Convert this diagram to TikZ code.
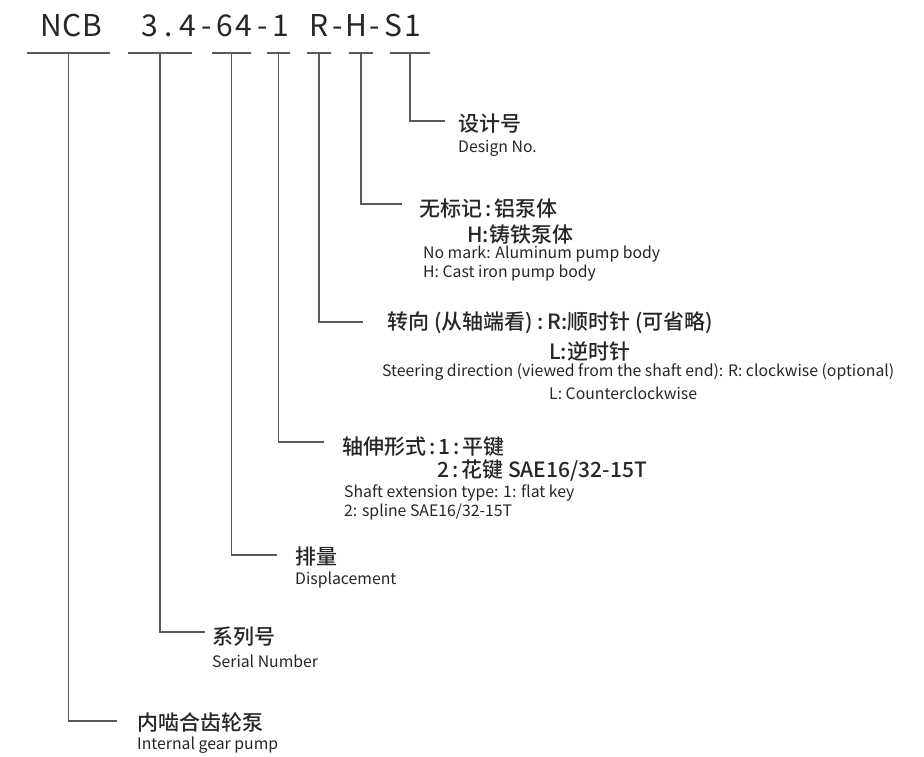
\documentclass[tikz,border=0pt]{standalone}
\usepackage{fontspec}
\setmainfont{Noto Sans CJK SC}
\newfontfamily\cjkmid{Noto Sans CJK SC}[UprightFont=* Medium]
\newfontfamily\codefontN{Noto Sans CJK SC}[LetterSpace=3]
\usetikzlibrary{positioning,calc}
\definecolor{LineGray}{HTML}{5A5A5A}
\definecolor{InkDark}{HTML}{262626}
\newcommand\sepc{\kern3pt:\kern3pt}

\begin{document}
\begin{tikzpicture}[x=1pt,y=-1pt,
    lead/.style={draw=LineGray,line width=1.1pt},
    codetext/.style={font=\codefontN\fontsize{30}{36}\selectfont,text=InkDark,inner sep=0pt,anchor=base},
    cnlabel/.style={font=\cjkmid\fontsize{21}{25}\selectfont,text=InkDark,inner sep=0pt,anchor=west},
    enlabel/.style={font=\fontsize{15.8}{19}\selectfont,text=InkDark,inner sep=0pt,anchor=west}]
  \useasboundingbox (0,0) rectangle (924,757);
  % model code, fixed pitch cells
  \node[codetext,anchor=base west] (codeNCB) at (40,37) {NCB};
  \foreach \ch [count=\i from 0] in {3,.,4,-,6,4,-,1}
    \node[codetext] (codeA-\i) at (150+18.75*\i,37) {\ch};
  \foreach \ch [count=\i from 9] in {R,-,H,-,S,1}
    \node[codetext] (codeB-\i) at (150+18.75*\i,37) {\ch};
  % bars under the code, tap in the middle
  \foreach \part/\xa/\xb in {NCB/27/110,Ser/128/192,Dsp/212/251,Sft/267/290,
                             Rot/307/331,Bdy/349/373,Des/390/430}{
    \draw[lead] (\xa,53) coordinate (\part-l) -- (\xb,53) coordinate (\part-r);
    \coordinate (\part-t) at ($(\part-l)!0.5!(\part-r)$);
  }
  % leader ends
  \foreach \part/\xe/\ye in {Des/445/121,Bdy/402/204,Rot/363/322,Sft/324/442,
                             Dsp/277/555,Ser/205/632,NCB/117/721}{
    \coordinate (\part-e) at (\xe,\ye);
    \draw[lead] (\part-t) |- (\part-e);
  }
  % design no.
  \node[cnlabel] (desCn) at (458,124) {设计号};
  \node[enlabel] (desEn) at (458,148) {Design No.};
  % pump body
  \node[cnlabel] (bdyCn) at (419,209) {无标记\sepc 铝泵体};
  \node[cnlabel] (bdyCnB) at (467,235) {H:铸铁泵体};
  \node[enlabel] (bdyEn) at (423,254) {No mark: Aluminum pump body};
  \node[enlabel] (bdyEnB) at (423,273) {H: Cast iron pump body};
  % rotation
  \node[cnlabel] (rotCn) at (387,323) {转向\kern5pt(从轴端看)\kern4pt:\kern4pt R:顺时针\kern5pt(可省略)};
  \node[cnlabel] (rotCnB) at (549,351) {L:逆时针};
  \node[enlabel] (rotEn) at (382,372) {Steering direction (viewed from the shaft end): R: clockwise (optional)};
  \node[enlabel] (rotEnB) at (549,393) {L: Counterclockwise};
  % shaft extension
  \node[cnlabel] (sftCn) at (342,447) {轴伸形式\sepc 1\sepc 平键};
  \node[cnlabel] (sftCnB) at (437,470) {2\sepc 花键 SAE16/32-15T};
  \node[enlabel] (sftEn) at (344,493) {Shaft extension type: 1: flat key};
  \node[enlabel] (sftEnB) at (344,512) {2: spline SAE16/32-15T};
  % displacement
  \node[cnlabel] (dspCn) at (295,557) {排量};
  \node[enlabel] (dspEn) at (295,580) {Displacement};
  % series
  \node[cnlabel] (serCn) at (212,637) {系列号};
  \node[enlabel] (serEn) at (212,661) {Serial Number};
  % pump type
  \node[cnlabel] (ncbCn) at (137,722) {内啮合齿轮泵};
  \node[enlabel] (ncbEn) at (137,745) {Internal gear pump};
\end{tikzpicture}
\end{document}
